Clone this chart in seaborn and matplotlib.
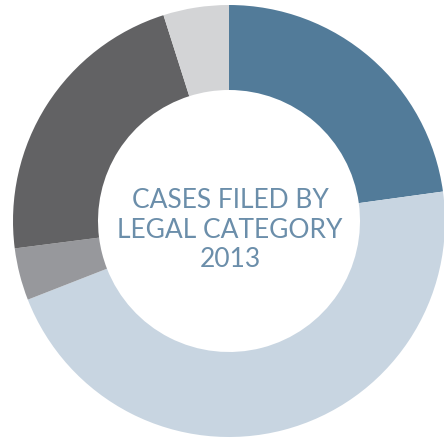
import matplotlib
matplotlib.use("Agg")
import matplotlib.pyplot as plt
import seaborn as sns

sns.set_style("white")
plt.rcParams['font.family'] = ['Lato', 'DejaVu Sans']

categories = ["Category A", "Category B", "Category C", "Category D", "Category E"]
shares = [22.8, 46.2, 3.9, 22.1, 4.9]
colors = ["#527b99", "#c8d5e1", "#97989c", "#626264", "#d3d4d6"]
title_lines = ["CASES FILED BY", "LEGAL CATEGORY", "2013"]

fig = plt.figure(figsize=(4.44, 4.38), dpi=100)
ax = fig.add_axes([0, 0, 1, 1])
cx, cy, r = 229, 217, 216
ax.pie(shares, colors=colors, startangle=90, counterclock=False,
       center=(cx, cy), radius=r,
       wedgeprops=dict(width=85, linewidth=0))
ax.set_xlim(0, 444)
ax.set_ylim(0, 438)
ax.set_aspect("equal")
ax.axis("off")
ax.text(cx + 1, 208, "\n".join(title_lines), ha="center", va="center",
        fontsize=19, color="#6b8eaa", fontweight="normal", linespacing=1.22)
fig.savefig("out.png", dpi=100)
